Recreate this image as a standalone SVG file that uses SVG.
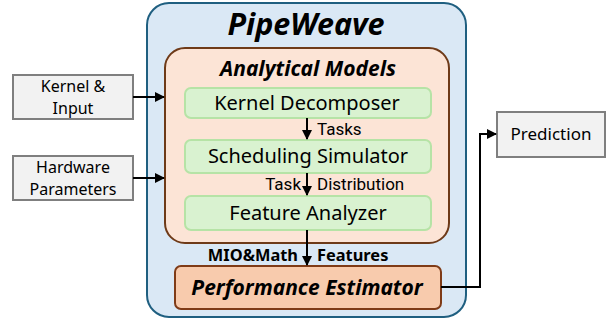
<svg xmlns="http://www.w3.org/2000/svg" width="609" height="320" viewBox="0 0 609 320">
<style>
.t{font-family:"Noto Sans","Open Sans",sans-serif;fill:#000}
.r{font-family:Roboto,"Noto Sans",sans-serif;fill:#000}
.io{fill:#f2f2f2;stroke:#7f7f7f;stroke-width:2}
.g{fill:#d9f2d0;stroke:#b6e3a6;stroke-width:2}
.c{stroke:#000;stroke-width:2;fill:none}
</style>
<defs>
<marker id="ah" viewBox="0 0 10 10" refX="9" refY="5" markerWidth="5" markerHeight="5" orient="auto" markerUnits="strokeWidth">
<path d="M0,0 L10,5 L0,10 z" fill="#000"/>
</marker>
</defs>
<g id="pipeweave">
<rect x="147" y="3" width="319" height="314" rx="22" fill="#dae8f5" stroke="#1f5f80" stroke-width="2"/>
<text class="t" x="306" y="35" font-size="30.5" font-weight="bold" font-style="italic" text-anchor="middle">PipeWeave</text>
</g>
<g id="analytical">
<rect x="165" y="48" width="284" height="195" rx="20" fill="#fce4d6" stroke="#6e3a18" stroke-width="2"/>
<text class="t" x="308" y="76" font-size="21" font-weight="bold" font-style="italic" text-anchor="middle">Analytical Models</text>
</g>
<g id="kernel-decomposer">
<rect class="g" x="185" y="88" width="246" height="30" rx="6"/>
<text class="t" x="307" y="110" font-size="20" text-anchor="middle">Kernel Decomposer</text>
</g>
<g id="scheduling-simulator">
<rect class="g" x="185" y="140" width="246" height="33" rx="6"/>
<text class="t" x="308" y="163" font-size="20" text-anchor="middle">Scheduling Simulator</text>
</g>
<g id="feature-analyzer">
<rect class="g" x="185" y="196" width="246" height="34" rx="6"/>
<text class="t" x="308" y="220" font-size="20" text-anchor="middle">Feature Analyzer</text>
</g>
<g id="performance-estimator">
<rect x="175" y="266" width="266" height="43" rx="6" fill="#f8cbad" stroke="#7f3b17" stroke-width="2"/>
<text class="t" x="307" y="295" font-size="21" font-weight="bold" font-style="italic" text-anchor="middle">Performance Estimator</text>
</g>
<g id="kernel-input">
<rect class="io" x="13" y="75" width="120" height="44"/>
<text class="t" x="73" y="92" font-size="16" text-anchor="middle">Kernel &amp;</text>
<text class="t" x="73" y="114" font-size="16" text-anchor="middle">Input</text>
</g>
<g id="hardware-parameters">
<rect class="io" x="13" y="156" width="120" height="44"/>
<text class="t" x="73" y="173" font-size="16" text-anchor="middle">Hardware</text>
<text class="t" x="73" y="195" font-size="16" text-anchor="middle">Parameters</text>
</g>
<g id="prediction">
<rect class="io" x="497" y="112" width="108" height="45"/>
<text class="t" x="551" y="140" font-size="17" text-anchor="middle">Prediction</text>
</g>
<g id="connectors">
<path class="c" d="M133,97 H164" marker-end="url(#ah)"/>
<path class="c" d="M133,178 H164" marker-end="url(#ah)"/>
<path class="c" d="M307,118 V139" marker-end="url(#ah)"/>
<path class="c" d="M307,173 V195" marker-end="url(#ah)"/>
<path class="c" d="M307,230 V265" marker-end="url(#ah)"/>
<path class="c" d="M441,287 H480 V134 H496" marker-end="url(#ah)"/>
<text class="r" x="317" y="135" font-size="17">Tasks</text>
<text class="r" x="301" y="190" font-size="17" text-anchor="end">Task</text>
<text class="r" x="317" y="190" font-size="17">Distribution</text>
<text class="t" x="298" y="261" font-size="16.4" font-weight="bold" text-anchor="end">MIO&amp;Math</text>
<text class="t" x="317" y="261" font-size="16.4" font-weight="bold">Features</text>
</g>
</svg>
